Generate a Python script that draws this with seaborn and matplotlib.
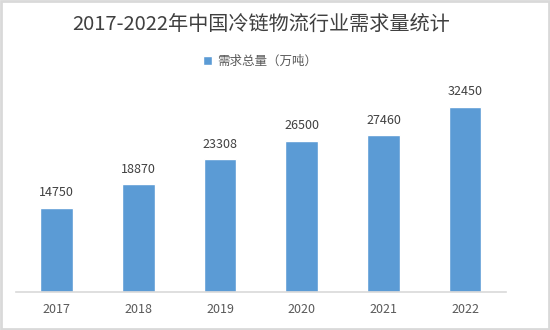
import matplotlib
matplotlib.use("Agg")
import matplotlib.pyplot as plt
import seaborn as sns
import pandas as pd
from matplotlib.patches import Rectangle

years = ["2017", "2018", "2019", "2020", "2021", "2022"]
values = [14750, 18870, 23308, 26500, 27460, 32450]
title = "2017-2022年中国冷链物流行业需求量统计"
legend_label = "需求总量（万吨）"

sns.set_theme(style="white")
plt.rcParams['font.family'] = ['Noto Sans CJK SC', 'DejaVu Sans']

df = pd.DataFrame({"year": years, "value": values})

fig = plt.figure(figsize=(5.5, 3.3), dpi=100)
ax = fig.add_axes([0.029, 0.115, 0.891, 0.606])
sns.barplot(data=df, x="year", y="value", color="#5B9BD5", width=0.4,
            saturation=1, ax=ax, label=legend_label)
ax.set_ylim(0, 35000)
ax.set_xlim(-0.5, 5.5)
for s in ["top", "right", "left"]:
    ax.spines[s].set_visible(False)
ax.spines["bottom"].set_color("#D9D9D9")
ax.spines["bottom"].set_linewidth(1.2)
ax.set_yticks([])
ax.set_xlabel("")
ax.set_ylabel("")
ax.tick_params(axis="x", length=0, pad=8, labelsize=9, colors="#595959")
for c in ax.containers:
    ax.bar_label(c, labels=[str(v) for v in values], padding=6, fontsize=9, color="#404040")

leg = ax.legend(loc="center", frameon=False, fontsize=9, handlelength=0.7, handleheight=0.7,
                handletextpad=0.4, labelcolor="#595959")
leg.set_bbox_to_anchor((0.473, 0.815), transform=fig.transFigure)

fig.text(0.474, 0.925, title, ha="center", va="center", fontsize=14.5, color="#404040")
fig.patches.append(Rectangle((0.002, 0.003), 0.996, 0.994, transform=fig.transFigure,
                             fill=False, edgecolor="#D9D9D9", linewidth=2))
fig.savefig("out.png", dpi=100)
